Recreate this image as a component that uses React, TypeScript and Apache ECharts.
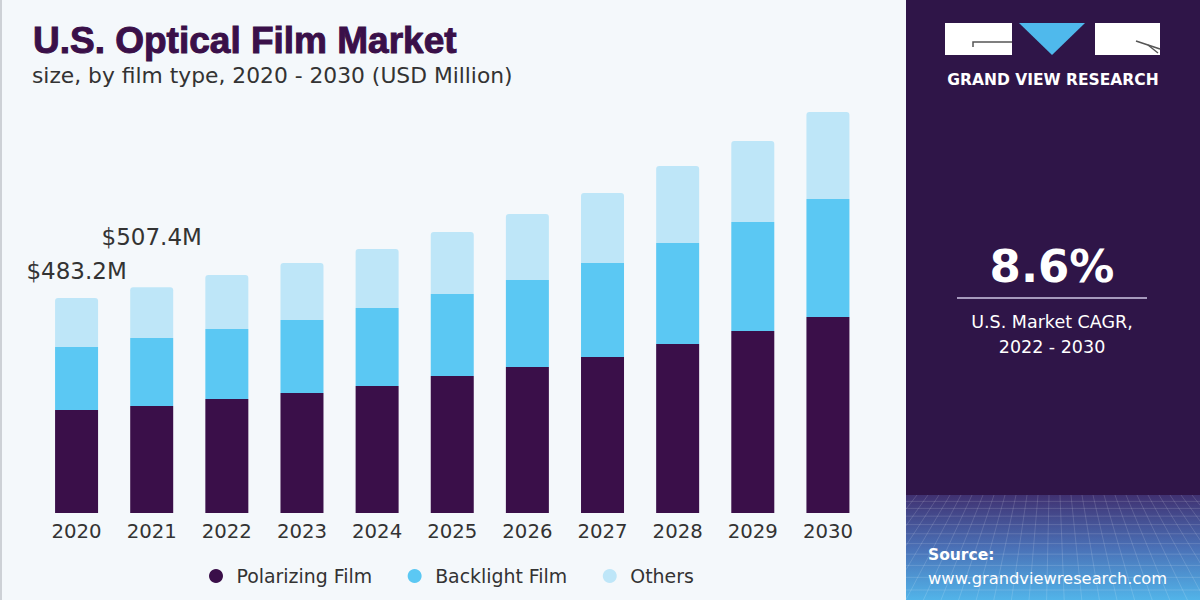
import React, { useEffect, useRef } from "react";
import * as echarts from "echarts";

// U.S. optical film market size by film type, USD million
const years = ["2020", "2021", "2022", "2023", "2024", "2025", "2026", "2027", "2028", "2029", "2030"];
const polarizingFilm = [231.5, 240.5, 256.2, 269.7, 285.4, 307.9, 328.1, 350.6, 379.8, 409.0, 440.5];
const backlightFilm = [141.6, 152.8, 157.3, 164.1, 175.3, 184.3, 195.5, 211.3, 227.0, 245.0, 265.2];
const others = [110.1, 114.1, 121.4, 128.1, 132.6, 139.3, 148.3, 157.3, 173.0, 182.0, 195.5];
const seriesNames = ["Polarizing Film", "Backlight Film", "Others"];
const totalLabelCount = 2; // totals printed above the first two years

const cagrText = "8.6%";
const cagrCaption = ["U.S. Market CAGR,", "2022 - 2030"];

const COLORS = ["#3a0f49", "#5bc8f3", "#bee6f8"];
const PANEL = "#2f1548";
const FONT = "'DejaVu Sans', Verdana, sans-serif";
const TITLE_FONT = "'Liberation Sans', Arial, sans-serif";

// Perspective grid drawn at the foot of the side panel
function panelGridLines(): any[] {
  const els: any[] = [];
  const top = 495;
  const bottom = 600;
  const left = 906;
  const right = 1200;
  const vx = 1053;
  const line = { stroke: "rgba(255,255,255,0.14)", lineWidth: 1 };
  for (let k = 1; k <= 12; k++) {
    const y = top + 6 * k + 0.35 * k * k;
    if (y >= bottom) break;
    els.push({ type: "line", shape: { x1: left, y1: y, x2: right, y2: y }, style: line, silent: true });
  }
  for (let j = -20; j <= 40; j++) {
    const xt = left + j * 11;
    let xb = vx + (xt - vx) * 1.6;
    let yb = bottom;
    let x1 = xt;
    let y1 = top;
    if (xt < left && xb < left) continue;
    if (xt > right && xb > right) continue;
    if (xb < left) {
      const t = (left - xt) / (xb - xt);
      yb = top + (bottom - top) * t;
      xb = left;
    }
    if (xt < left) {
      const t = (left - xt) / (xb - xt);
      y1 = top + (bottom - top) * t;
      x1 = left;
    }
    els.push({ type: "line", shape: { x1, y1, x2: xb, y2: yb }, style: line, silent: true });
  }
  return els;
}

export default function App() {
  const ref = useRef<HTMLDivElement>(null);

  useEffect(() => {
    if (!ref.current) return;
    const chart = echarts.init(ref.current, undefined, { renderer: "svg" });

    const totals = years.map((_, i) => polarizingFilm[i] + backlightFilm[i] + others[i]);

    const option: any = {
      animation: false,
      backgroundColor: "#f4f8fb",
      grid: { left: 39, right: 334.5, top: 68, bottom: 87 },
      xAxis: {
        type: "category",
        data: years,
        axisLine: { show: false },
        axisTick: { show: false },
        axisLabel: { color: "#333", fontSize: 19.7, fontFamily: FONT, margin: 8 },
      },
      yAxis: { type: "value", min: 0, max: 1000, show: false, splitLine: { show: false } },
      legend: {
        data: seriesNames,
        icon: "circle",
        itemWidth: 31,
        itemHeight: 14,
        itemGap: 35.5,
        padding: 0,
        left: 209,
        top: 565,
        textStyle: { color: "#333", fontSize: 18.9, fontFamily: FONT, lineHeight: 22 },
      },
      series: [
        {
          name: seriesNames[0],
          type: "bar",
          stack: "total",
          barWidth: 43,
          data: polarizingFilm,
          itemStyle: { color: COLORS[0] },
        },
        {
          name: seriesNames[1],
          type: "bar",
          stack: "total",
          barWidth: 43,
          data: backlightFilm,
          itemStyle: { color: COLORS[1] },
        },
        {
          name: seriesNames[2],
          type: "bar",
          stack: "total",
          barWidth: 43,
          itemStyle: { color: COLORS[2], borderRadius: [3, 3, 0, 0] },
          data: others.map((v, i) => ({
            value: v,
            label:
              i < totalLabelCount
                ? {
                    show: true,
                    position: "top",
                    distance: i === 0 ? 15 : 39,
                    formatter: "$" + totals[i].toFixed(1) + "M",
                    color: "#333",
                    fontSize: 23,
                    fontFamily: FONT,
                  }
                : { show: false },
          })),
        },
      ],
      graphic: [
        { type: "rect", shape: { x: 0, y: 0, width: 2, height: 600 }, style: { fill: "#cdd1d6" }, silent: true },
        {
          type: "text",
          x: 33,
          y: 40,
          style: {
            text: "U.S. Optical Film Market",
            font: "bold 37px " + TITLE_FONT,
            fill: "#3a1049",
            stroke: "#3a1049",
            lineWidth: 1,
            textVerticalAlign: "middle",
          },
        },
        {
          type: "text",
          x: 32,
          y: 75,
          style: {
            text: "size, by film type, 2020 - 2030 (USD Million)",
            font: "21.8px " + FONT,
            fill: "#333",
            textVerticalAlign: "middle",
          },
        },
        // side panel
        { type: "rect", shape: { x: 906, y: 0, width: 294, height: 600 }, style: { fill: PANEL }, silent: true },
        {
          type: "rect",
          shape: { x: 906, y: 495, width: 294, height: 105 },
          style: {
            fill: {
              type: "linear",
              x: 0,
              y: 0,
              x2: 0,
              y2: 1,
              colorStops: [
                { offset: 0, color: "#403171" },
                { offset: 0.5, color: "#4a70b6" },
                { offset: 1, color: "#52b4e9" },
              ],
            },
          },
          silent: true,
        },
        ...panelGridLines(),
        // logo
        { type: "rect", shape: { x: 945, y: 23, width: 67, height: 32 }, style: { fill: "#ffffff" } },
        {
          type: "polyline",
          shape: { points: [[973, 47], [973, 42], [1012, 42]] },
          style: { stroke: "#555", lineWidth: 1.5, fill: null },
        },
        {
          type: "polygon",
          shape: { points: [[1019, 23], [1085, 23], [1052, 55]] },
          style: { fill: "#4fb9ec" },
        },
        { type: "rect", shape: { x: 1095, y: 23, width: 65, height: 32 }, style: { fill: "#ffffff" } },
        {
          type: "polyline",
          shape: { points: [[1136, 41], [1160, 49]] },
          style: { stroke: "#555", lineWidth: 1.5, fill: null },
        },
        {
          type: "polyline",
          shape: { points: [[1148, 45], [1158, 53]] },
          style: { stroke: "#555", lineWidth: 1.5, fill: null },
        },
        {
          type: "text",
          x: 1053,
          y: 80,
          style: {
            text: "GRAND VIEW RESEARCH",
            font: "bold 15.5px " + FONT,
            fill: "#ffffff",
            textAlign: "center",
            textVerticalAlign: "middle",
          },
        },
        {
          type: "text",
          x: 1052,
          y: 266,
          style: {
            text: cagrText,
            font: "bold 45px " + FONT,
            fill: "#ffffff",
            textAlign: "center",
            textVerticalAlign: "middle",
          },
        },
        {
          type: "line",
          shape: { x1: 957, y1: 298, x2: 1147, y2: 298 },
          style: { stroke: "#cfc6e4", lineWidth: 1.5 },
        },
        {
          type: "text",
          x: 1052,
          y: 322,
          style: {
            text: cagrCaption[0],
            font: "17.5px " + FONT,
            fill: "#ffffff",
            textAlign: "center",
            textVerticalAlign: "middle",
          },
        },
        {
          type: "text",
          x: 1052,
          y: 347,
          style: {
            text: cagrCaption[1],
            font: "17.5px " + FONT,
            fill: "#ffffff",
            textAlign: "center",
            textVerticalAlign: "middle",
          },
        },
        {
          type: "text",
          x: 928,
          y: 555,
          style: {
            text: "Source:",
            font: "bold 15.5px " + FONT,
            fill: "#ffffff",
            textVerticalAlign: "middle",
          },
        },
        {
          type: "text",
          x: 928,
          y: 578,
          style: {
            text: "www.grandviewresearch.com",
            font: "16.3px " + FONT,
            fill: "#ffffff",
            textVerticalAlign: "middle",
          },
        },
      ],
    };

    chart.setOption(option);
    return () => chart.dispose();
  }, []);

  return (
    <div
      ref={ref}
      style={{ position: "absolute", left: 0, top: 0, width: 1200, height: 600 }}
    />
  );
}
